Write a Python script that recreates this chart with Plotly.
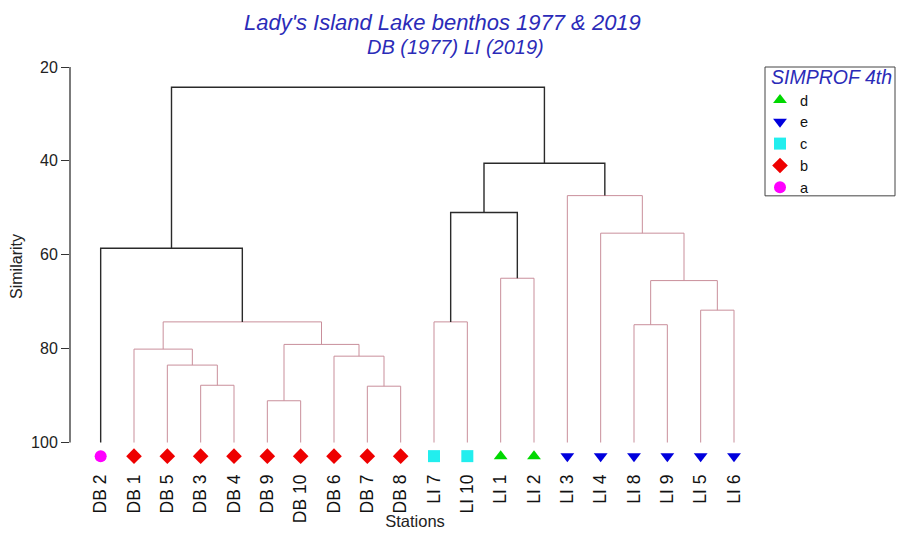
import plotly.graph_objects as go

# leaf order as drawn, left to right
stations = ["DB 2", "DB 1", "DB 5", "DB 3", "DB 4", "DB 9", "DB 10", "DB 6", "DB 7", "DB 8",
            "LI 7", "LI 10", "LI 1", "LI 2", "LI 3", "LI 4", "LI 8", "LI 9", "LI 5", "LI 6"]
simprof_group = ["a", "b", "b", "b", "b", "b", "b", "b", "b", "b",
                 "c", "c", "d", "d", "e", "e", "e", "e", "e", "e"]

# merges: children joined, similarity at join, SIMPROF significant split
merge_name = ["n1", "n2", "n3", "n4", "n5", "n6", "n7", "n8", "n9", "n10",
              "n11", "n12", "n13", "n14", "n15", "n16", "n17", "n18", "n19"]
merge_left = ["DB 3", "DB 5", "DB 1", "DB 7", "DB 6", "DB 9", "n6", "n3", "DB 2", "LI 7",
              "LI 1", "n10", "LI 8", "LI 5", "n13", "LI 4", "LI 3", "n12", "n9"]
merge_right = ["DB 4", "n1", "n2", "DB 8", "n4", "DB 10", "n5", "n7", "n8", "LI 10",
               "LI 2", "n11", "LI 9", "LI 6", "n14", "n15", "n16", "n17", "n18"]
merge_sim = [87.8, 83.5, 80.1, 88.0, 81.6, 91.1, 79.1, 74.3, 58.6, 74.3,
             65.0, 51.0, 74.9, 71.8, 65.5, 55.4, 47.4, 40.5, 24.3]
merge_sig = [False, False, False, False, False, False, False, False, True, False,
             False, True, False, False, False, False, False, True, True]

group_symbols = {"a": "circle", "b": "diamond", "c": "square", "d": "triangle-up", "e": "triangle-down"}
group_colors = {"a": "#ff00ff", "b": "#ee0000", "c": "#22eeee", "d": "#00d800", "e": "#0000dd"}
legend_order = ["d", "e", "c", "b", "a"]

TITLE_BLUE = "#2b2bb8"
MARKER_Y = 102.9
# page body has an 8px margin, so keep the figure inside the window
FIG_W, FIG_H = 888, 522
PLOT_L, PLOT_T, PLOT_W, PLOT_H = 62, 59, 690, 399.5


def px_x(x):
    return (x - PLOT_L) / PLOT_W


def px_y(y):
    return 1 - (y - PLOT_T) / PLOT_H


# positions of leaves and internal nodes
xpos = {s: i for i, s in enumerate(stations)}
ypos = {s: 100.0 for s in stations}
lines = {True: ([], []), False: ([], [])}
for name, l, r, h, sig in zip(merge_name, merge_left, merge_right, merge_sim, merge_sig):
    xs, ys = lines[sig]
    xs += [xpos[l], xpos[l], xpos[r], xpos[r], None]
    ys += [ypos[l], h, h, ypos[r], None]
    xpos[name] = (xpos[l] + xpos[r]) / 2
    ypos[name] = h

fig = go.Figure()
fig.add_trace(go.Scatter(x=lines[False][0], y=lines[False][1], mode="lines",
                         line=dict(color="#c98f9b", width=1), showlegend=False, hoverinfo="skip"))
fig.add_trace(go.Scatter(x=lines[True][0], y=lines[True][1], mode="lines",
                         line=dict(color="#2a2a2a", width=1.4), showlegend=False, hoverinfo="skip"))

for rank, g in enumerate(legend_order):
    idx = [i for i, gg in enumerate(simprof_group) if gg == g]
    fig.add_trace(go.Scatter(
        x=idx, y=[MARKER_Y] * len(idx), mode="markers", name=g,
        legendrank=rank + 1,
        marker=dict(symbol=group_symbols[g], color=group_colors[g], size=12,
                    line=dict(width=0)),
    ))

fig.update_layout(
    width=FIG_W, height=FIG_H,
    margin=dict(l=PLOT_L, r=FIG_W - PLOT_L - PLOT_W, t=PLOT_T, b=FIG_H - PLOT_T - PLOT_H,
                autoexpand=False),
    paper_bgcolor="white", plot_bgcolor="white",
    font=dict(family="Arial, Liberation Sans, sans-serif", color="#222", size=16),
    showlegend=True,
    legend=dict(
        x=px_x(752), y=px_y(76), xanchor="left", yanchor="top",
        borderwidth=0, bgcolor="rgba(0,0,0,0)",
        font=dict(size=14.5, color="#111"), tracegroupgap=0,
    ),
    xaxis=dict(
        range=[-0.92, 19.78], tickmode="array", tickvals=list(range(len(stations))),
        ticktext=stations, tickangle=-90, ticks="", ticklabelstandoff=4, automargin=False,
        showline=False, showgrid=False, zeroline=False, tickfont=dict(size=17.5, color="#111"),
        title=dict(text="Stations", font=dict(size=16.5, color="#222"), standoff=2),
    ),
    yaxis=dict(
        range=[105, 20], tickvals=[20, 40, 60, 80, 100], ticks="outside", ticklen=8,
        tickcolor="#333", showline=False, automargin=False,
        showgrid=False, zeroline=False, tickfont=dict(size=16, color="#222"),
        title=dict(text="Similarity", font=dict(size=16, color="#222"), standoff=6),
    ),
    shapes=[
        dict(type="line", xref="paper", yref="y", x0=0, x1=0, y0=20, y1=100,
             line=dict(color="#333", width=1.3)),
        # legend frame
        dict(type="rect", xref="paper", yref="paper", x0=px_x(757), x1=px_x(887),
             y0=px_y(188), y1=px_y(59), line=dict(color="#444", width=1)),
    ],
    annotations=[
        dict(text="Lady's Island Lake benthos 1977 & 2019", xref="paper", yref="paper",
             x=px_x(434), y=px_y(14), yanchor="middle", showarrow=False,
             font=dict(size=22, color=TITLE_BLUE, style="italic")),
        dict(text="DB (1977) LI (2019)", xref="paper", yref="paper",
             x=px_x(447.5), y=px_y(39), yanchor="middle", showarrow=False,
             font=dict(size=20, color=TITLE_BLUE, style="italic")),
        dict(text="SIMPROF 4th", xref="paper", yref="paper",
             x=px_x(761), y=px_y(69), xanchor="left", yanchor="middle", showarrow=False,
             font=dict(size=19.5, color=TITLE_BLUE, style="italic")),
    ],
)

fig.write_html("out.html")
